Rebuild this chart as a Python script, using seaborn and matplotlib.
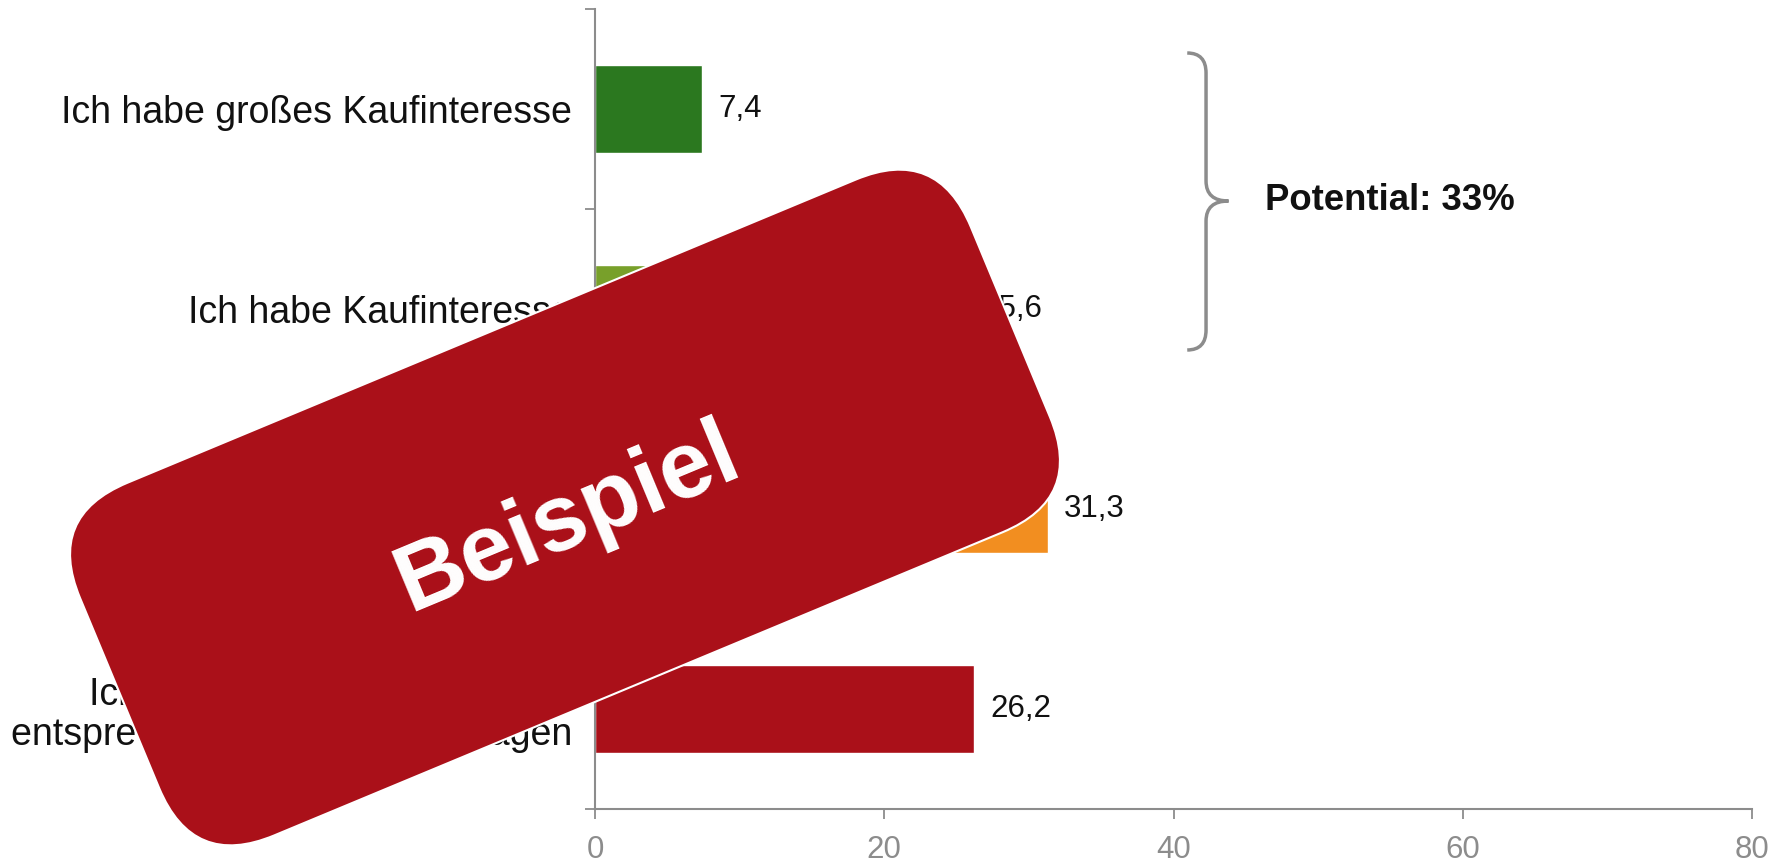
import pandas as pd
import matplotlib.pyplot as plt
import seaborn as sns
from matplotlib.patches import FancyBboxPatch, PathPatch
from matplotlib.path import Path
from matplotlib.transforms import Affine2D

# ==============================
# DATA
# ==============================
categories = [
    "Ich habe großes Kaufinteresse",
    "Ich habe Kaufinteresse",
    "Ich habe kein Kaufinteresse",
    "Ich kann über mein Interesse\nentsprechend bisher nichts sagen",
]
values = [7.4, 25.6, 31.3, 26.2]
value_labels = ["7,4", "25,6", "31,3", "26,2"]
colors = ["#2b781f", "#78a02a", "#f28e20", "#aa1019"]
x_ticks = [0, 20, 40, 60, 80]
potential_text = "Potential: 33%"
stamp_text = "Beispiel"

GRAY = "#8c8c8c"
W, H = 1792, 863

# ==============================
# PLOT
# ==============================
sns.set_style("white")
plt.rcParams["font.family"] = ["Liberation Sans", "DejaVu Sans"]

df = pd.DataFrame({"Kategorie": categories, "Wert": values})

fig = plt.figure(figsize=(W / 100, H / 100), dpi=100)
ax = fig.add_axes([595 / W, 54 / H, (1752 - 595) / W, (809 - 9) / H])

sns.barplot(data=df, x="Wert", y="Kategorie", hue="Kategorie", order=categories,
            hue_order=categories, palette=colors, width=0.44, legend=False,
            saturation=1, ax=ax)

for cont, lab in zip(ax.containers, value_labels):
    ax.bar_label(cont, labels=[lab], padding=11.5, fontsize=22.5, color="#111111")

ax.set_xlim(0, 80)
ax.set_ylim(3.5, -0.5)
ax.set_xlabel("")
ax.set_ylabel("")
ax.set_xticks(x_ticks)
ax.set_yticks(range(len(categories)))
ax.set_yticklabels(categories, fontsize=27, color="#111111", linespacing=1.15)
ax.set_yticks([-0.5, 0.5, 1.5, 2.5, 3.5], minor=True)
ax.tick_params(left=True, bottom=True, which="both")
ax.tick_params(axis="y", which="major", length=0, pad=16.5)
ax.tick_params(axis="y", which="minor", length=7, width=1.3, color=GRAY, direction="out")
ax.tick_params(axis="x", length=7, width=1.3, color=GRAY, labelcolor=GRAY,
               labelsize=22.5, pad=12, direction="out")
for side in ["top", "right"]:
    ax.spines[side].set_visible(False)
for side in ["left", "bottom"]:
    ax.spines[side].set_color(GRAY)
    ax.spines[side].set_linewidth(1.5)

# brace over the first two bars
xe, xl, xt = 40.95, 42.25, 43.8
top, mid, bot, r = -0.28, 0.46, 1.205, 0.1
verts = [(xe, top), (xl, top), (xl, top + r), (xl, mid - r), (xl, mid), (xt, mid),
         (xl, mid), (xl, mid + r), (xl, bot - r), (xl, bot), (xe, bot)]
codes = [Path.MOVETO, Path.CURVE3, Path.CURVE3, Path.LINETO, Path.CURVE3, Path.CURVE3,
         Path.CURVE3, Path.CURVE3, Path.LINETO, Path.CURVE3, Path.CURVE3]
ax.add_patch(PathPatch(Path(verts, codes), fill=False, edgecolor=GRAY, lw=2.5,
                       clip_on=False, capstyle="butt"))
ax.text(46.3, mid, potential_text, fontsize=26.3, fontweight="bold", va="center",
        ha="left", color="#111111")

# "Beispiel" stamp
cx, cy, angle = 565, H - 507.5, 22.6
bw, bh = 965, 382
stamp_tr = Affine2D().rotate_deg(angle).translate(cx, cy).scale(1 / W, 1 / H) + fig.transFigure
stamp = FancyBboxPatch((-bw / 2, -bh / 2), bw, bh,
                       boxstyle="round,pad=0,rounding_size=88",
                       facecolor="#aa1019", edgecolor="white", lw=1.5,
                       transform=stamp_tr, zorder=10)
fig.add_artist(stamp)
fig.text(577.5 / W, (H - 541.5) / H, stamp_text, rotation=angle, rotation_mode="anchor",
         ha="center", va="baseline", fontsize=68, fontweight="bold", color="white",
         zorder=11)

fig.savefig("out.png", dpi=100)
plt.close(fig)
